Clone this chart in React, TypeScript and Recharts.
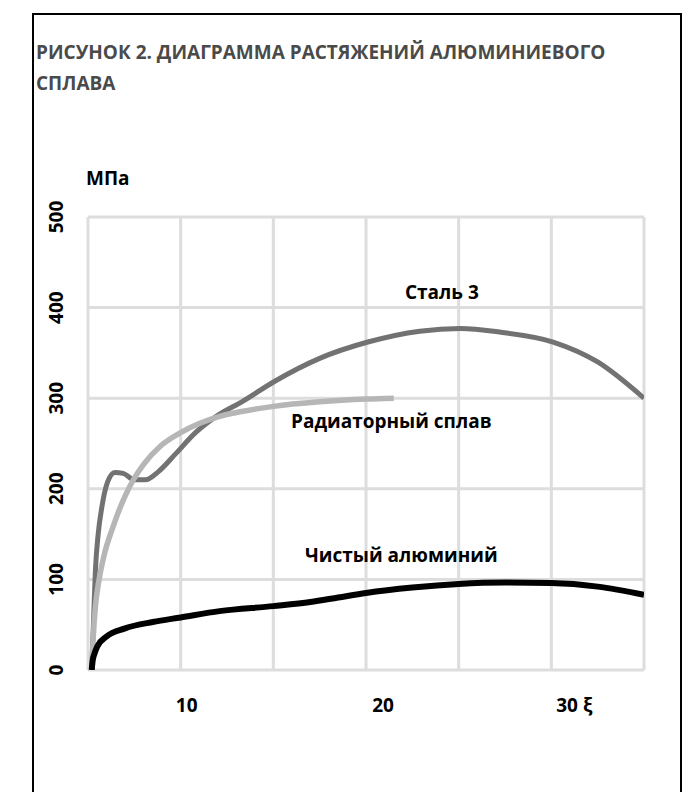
import React from 'react';
import { LineChart, Line, XAxis, YAxis, CartesianGrid } from 'recharts';

// ---- data ----
const steelStrain = [5.2, 5.3, 5.4, 5.55, 5.75, 6.05, 6.45, 6.9, 7.5, 8.1, 8.8, 9.7, 10.8, 12.0, 13.3, 15.1, 17.5, 20.1, 22.9, 25.1, 27.2, 30.1, 32.5, 35];
const steelStress = [0, 55, 110, 150, 180, 207, 218, 217, 210, 210, 219, 238, 262, 281, 296, 319, 344, 362, 374, 377, 373, 362, 340, 300];

const alloyStrain = [5.2, 5.28, 5.4, 5.6, 5.85, 6.35, 7.0, 7.45, 8.0, 8.9, 10, 11, 12.1, 13.2, 15, 17.5, 20, 21.5];
const alloyStress = [0, 35, 70, 100, 125, 158, 192, 210, 227, 247, 262, 272, 280, 285, 291, 296, 299, 300];

const aluminumStrain = [5.2, 5.25, 5.35, 5.5, 6, 7, 8.5, 10, 12.1, 15, 17, 18.5, 20, 22.5, 25, 27.5, 30, 32.5, 35];
const aluminumStress = [0, 10, 18, 26, 37, 46, 53, 58, 65, 70.5, 75, 80, 85, 91, 95, 96.5, 96, 92, 83];

const xGridTicks = [5, 10, 15, 20, 25, 30, 35];
const xLabelValues = [10, 20, 30];
const xLabelTexts = ['10', '20', '30 ξ'];
const xLabelNudge = [6, 17, 23];
const yTicks = [0, 100, 200, 300, 400, 500];

const titleLines = ['РИСУНОК 2. ДИАГРАММА РАСТЯЖЕНИЙ АЛЮМИНИЕВОГО', 'СПЛАВА'];
const yUnit = 'МПа';
const seriesNames = ['Сталь 3', 'Радиаторный сплав', 'Чистый алюминий'];

const zip = (xs: number[], ys: number[]) => xs.map((x, i) => ({ x, y: ys[i] }));
const steelData = zip(steelStrain, steelStress);
const alloyData = zip(alloyStrain, alloyStress);
const aluminumData = zip(aluminumStrain, aluminumStress);

const FONT = "'Open Sans', sans-serif";

const XTick = (props: any) => {
  const { x, payload } = props;
  const i = xLabelValues.indexOf(payload.value);
  if (i < 0) return null;
  return (
    <text x={x + xLabelNudge[i]} y={705} textAnchor="middle" dominantBaseline="central"
      fontFamily={FONT} fontWeight={700} fontSize={19} fill="#000">
      {xLabelTexts[i]}
    </text>
  );
};

const YTick = (props: any) => {
  const { y, payload } = props;
  const cx = 56;
  return (
    <text x={cx} y={y} transform={`rotate(-90, ${cx}, ${y})`} textAnchor="middle" dominantBaseline="central"
      fontFamily={FONT} fontWeight={700} fontSize={19} fill="#000">
      {String(payload.value)}
    </text>
  );
};

export default function App() {
  return (
    <div style={{ position: 'absolute', left: 0, top: 0, width: 684, height: 792, background: '#fff', overflow: 'hidden' }}>
      <div style={{ position: 'absolute', left: 0, top: 0 }}>
        <LineChart width={684} height={792} margin={{ top: 217, right: 40, bottom: 92, left: 0 }}>
          <CartesianGrid stroke="#dddddd" strokeWidth={3} />
          <XAxis type="number" dataKey="x" domain={[5, 35]} ticks={xGridTicks} allowDataOverflow
            axisLine={false} tickLine={false} height={30} tick={<XTick />} interval={0} />
          <YAxis type="number" dataKey="y" domain={[0, 500]} ticks={yTicks} allowDataOverflow
            axisLine={false} tickLine={false} width={88} tick={<YTick />} interval={0} />
          <Line data={steelData} dataKey="y" type="monotone" stroke="#727272" strokeWidth={5} dot={false} isAnimationActive={false} />
          <Line data={alloyData} dataKey="y" type="monotone" stroke="#b6b6b6" strokeWidth={5.5} dot={false} isAnimationActive={false} />
          <Line data={aluminumData} dataKey="y" type="monotone" stroke="#000000" strokeWidth={6} dot={false} isAnimationActive={false} />
        </LineChart>
      </div>
      <svg width={684} height={792} style={{ position: 'absolute', left: 0, top: 0, pointerEvents: 'none' }}>
        <rect x={33} y={14} width={648} height={800} fill="none" stroke="#000" strokeWidth={2} />
        <text x={36} y={59} fontFamily={FONT} fontWeight={700} fontSize={19} fill="#4a4a4a">{titleLines[0]}</text>
        <text x={36} y={90} fontFamily={FONT} fontWeight={700} fontSize={19} fill="#4a4a4a">{titleLines[1]}</text>
        <text x={86} y={185} fontFamily={FONT} fontWeight={700} fontSize={19} fill="#000">{yUnit}</text>
        <text x={405} y={299} fontFamily={FONT} fontWeight={700} fontSize={19} fill="#000">{seriesNames[0]}</text>
        <text x={291} y={428} fontFamily={FONT} fontWeight={700} fontSize={19} fill="#000">{seriesNames[1]}</text>
        <text x={305} y={562} fontFamily={FONT} fontWeight={700} fontSize={19} fill="#000">{seriesNames[2]}</text>
      </svg>
    </div>
  );
}
